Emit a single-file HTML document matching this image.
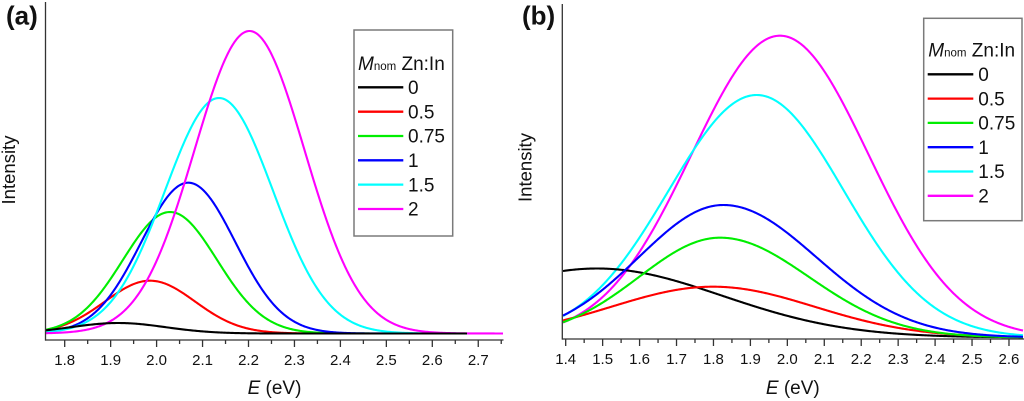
<!DOCTYPE html>
<html><head><meta charset="utf-8">
<style>
html,body{margin:0;padding:0;background:#fff;}
svg{display:block;}
text{font-family:"Liberation Sans",Arial,sans-serif;fill:#111;}
</style></head><body>
<svg id="s" width="1024" height="401" viewBox="0 0 1024 401" xmlns="http://www.w3.org/2000/svg">
<rect width="1024" height="401" fill="#fff"/>
<!-- Panel A -->
<g id="curvesA" fill="none" stroke-width="2.1" stroke-linejoin="round" stroke-linecap="butt">
<path id="a1" stroke="#ff0000"/>
<path id="a2" stroke="#00ee00"/>
<path id="a3" stroke="#0000ff"/>
<path id="a4" stroke="#00ffff"/>
<path id="a5" stroke="#ff00ff"/>
<path id="a0" stroke="#000000"/>
</g>
<g stroke="#333" stroke-width="1.3" fill="none">
<path d="M45.5 2V340.6"/>
<path d="M45 340H503.5"/>
<path d="M64.7 340V347M110.65 340V347M156.6 340V347M202.55 340V347M248.5 340V347M294.45 340V347M340.4 340V347M386.35 340V347M432.3 340V347M478.25 340V347"/>
<path d="M87.68 340V344M133.63 340V344M179.58 340V344M225.53 340V344M271.48 340V344M317.43 340V344M363.38 340V344M409.33 340V344M455.28 340V344M501.23 340V344"/>
</g>
<g font-size="15" text-anchor="middle">
<text x="64.7" y="365">1.8</text>
<text x="110.65" y="365">1.9</text>
<text x="156.6" y="365">2.0</text>
<text x="202.55" y="365">2.1</text>
<text x="248.5" y="365">2.2</text>
<text x="294.45" y="365">2.3</text>
<text x="340.4" y="365">2.4</text>
<text x="386.35" y="365">2.5</text>
<text x="432.3" y="365">2.6</text>
<text x="478.25" y="365">2.7</text>
</g>
<text x="274.5" y="394" font-size="19" text-anchor="middle"><tspan font-style="italic">E</tspan> (eV)</text>
<text transform="translate(15,170) rotate(-90)" font-size="18.5" text-anchor="middle">Intensity</text>
<text x="6" y="24.5" font-size="26" font-weight="bold">(a)</text>
<rect x="354" y="30" width="98.7" height="206" fill="#fff" stroke="#7a7a7a" stroke-width="1.5"/>
<text x="358" y="70" font-size="19"><tspan font-style="italic">M</tspan><tspan font-size="11.5">nom</tspan> Zn:In</text>
<g stroke-width="2.3">
<line x1="358" x2="403.3" y1="87.3" y2="87.3" stroke="#000"/>
<line x1="358" x2="403.3" y1="111.7" y2="111.7" stroke="#ff0000"/>
<line x1="358" x2="403.3" y1="136" y2="136" stroke="#00ee00"/>
<line x1="358" x2="403.3" y1="160.3" y2="160.3" stroke="#0000ff"/>
<line x1="358" x2="403.3" y1="184.6" y2="184.6" stroke="#00ffff"/>
<line x1="358" x2="403.3" y1="209" y2="209" stroke="#ff00ff"/>
</g>
<g font-size="19">
<text x="408" y="94">0</text>
<text x="408" y="118.4">0.5</text>
<text x="408" y="142.7">0.75</text>
<text x="408" y="167">1</text>
<text x="408" y="191.3">1.5</text>
<text x="408" y="215.7">2</text>
</g>

<!-- Panel B -->
<g id="curvesB" fill="none" stroke-width="2.1" stroke-linejoin="round">
<path id="b5" stroke="#ff00ff"/>
<path id="b4" stroke="#00ffff"/>
<path id="b0" stroke="#000000"/>
<path id="b1" stroke="#ff0000"/>
<path id="b2" stroke="#00ee00"/>
<path id="b3" stroke="#0000ff"/>
</g>
<g stroke="#333" stroke-width="1.3" fill="none">
<path d="M562.3 4V339.6"/>
<path d="M562 339H1024"/>
<path d="M565.7 339V346M602.64 339V346M639.58 339V346M676.52 339V346M713.46 339V346M750.4 339V346M787.34 339V346M824.28 339V346M861.22 339V346M898.16 339V346M935.1 339V346M972.04 339V346M1008.98 339V346"/>
<path d="M584.17 339V343M621.11 339V343M658.05 339V343M694.99 339V343M731.93 339V343M768.87 339V343M805.81 339V343M842.75 339V343M879.69 339V343M916.63 339V343M953.57 339V343M990.51 339V343"/>
</g>
<g font-size="15" text-anchor="middle">
<text x="565.7" y="364">1.4</text>
<text x="602.64" y="364">1.5</text>
<text x="639.58" y="364">1.6</text>
<text x="676.52" y="364">1.7</text>
<text x="713.46" y="364">1.8</text>
<text x="750.4" y="364">1.9</text>
<text x="787.34" y="364">2.0</text>
<text x="824.28" y="364">2.1</text>
<text x="861.22" y="364">2.2</text>
<text x="898.16" y="364">2.3</text>
<text x="935.1" y="364">2.4</text>
<text x="972.04" y="364">2.5</text>
<text x="1008.98" y="364">2.6</text>
</g>
<text x="792.8" y="394" font-size="19" text-anchor="middle"><tspan font-style="italic">E</tspan> (eV)</text>
<text transform="translate(531.5,167.5) rotate(-90)" font-size="18.5" text-anchor="middle">Intensity</text>
<text x="522" y="24.5" font-size="26" font-weight="bold">(b)</text>
<rect x="923.7" y="18.3" width="98.3" height="202.4" fill="#fff" stroke="#7a7a7a" stroke-width="1.5"/>
<text x="928.3" y="56.7" font-size="19"><tspan font-style="italic">M</tspan><tspan font-size="11.5">nom</tspan> Zn:In</text>
<g stroke-width="2.3">
<line x1="927.7" x2="973.3" y1="74.3" y2="74.3" stroke="#000"/>
<line x1="927.7" x2="973.3" y1="98.6" y2="98.6" stroke="#ff0000"/>
<line x1="927.7" x2="973.3" y1="122.9" y2="122.9" stroke="#00ee00"/>
<line x1="927.7" x2="973.3" y1="147.2" y2="147.2" stroke="#0000ff"/>
<line x1="927.7" x2="973.3" y1="171.5" y2="171.5" stroke="#00ffff"/>
<line x1="927.7" x2="973.3" y1="195.8" y2="195.8" stroke="#ff00ff"/>
</g>
<g font-size="19">
<text x="978.3" y="81">0</text>
<text x="978.3" y="105.3">0.5</text>
<text x="978.3" y="129.6">0.75</text>
<text x="978.3" y="153.9">1</text>
<text x="978.3" y="178.2">1.5</text>
<text x="978.3" y="202.5">2</text>
</g>
</svg>
<script>
(function(){
function gauss(B,mu,h,sL,sR,x0,x1){
  var d='';
  for(var x=x0;x<=x1+0.001;x+=1){
    var s=x<mu?sL:sR;
    var y=B-h*Math.exp(-((x-mu)*(x-mu))/(2*s*s));
    d+=(d?'L':'M')+x.toFixed(1)+' '+y.toFixed(2);
  }
  return d;
}
function set(id,d){document.getElementById(id).setAttribute('d',d);}
set('a0',gauss(333.5,118.3,10.5,47,47,46,467.7));
set('a1',gauss(333.5,150,52.8,45,45,46,503));
set('a2',gauss(333.5,170,121.5,47,47,46,503));
set('a3',gauss(333.5,188.3,150.8,47,47,46,503));
set('a4',gauss(333.5,219,235.5,54,54,46,503));
set('a5',gauss(333.5,249.5,302.5,55,55,46,503));

set('b0',gauss(337.5,597,69,125,125,563,1023.5));
set('b1',gauss(337.5,713,50.8,101.5,101.5,563,1023.5));
set('b2',gauss(337.5,720,99.8,81,89,563,1023.5));
set('b3',gauss(337.5,723.3,132.5,84.5,93,563,1023.5));
set('b4',gauss(337.5,756.7,242.5,88,87,563,1023.5));
set('b5',gauss(337.5,780,301.8,88.5,88.5,563,1023.5));
})();
</script>
</body></html>
